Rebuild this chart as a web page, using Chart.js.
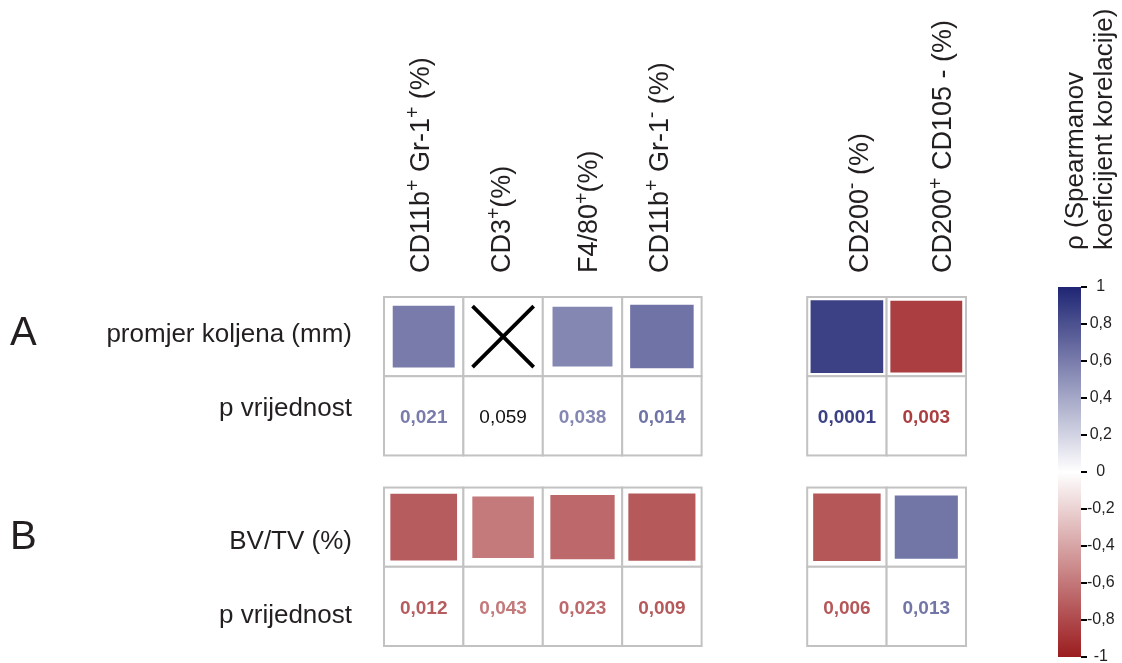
<!DOCTYPE html>
<html><head><meta charset="utf-8">
<script src="https://cdn.jsdelivr.net/npm/chart.js@4.4.1/dist/chart.umd.min.js"></script>
<style>
html,body{margin:0;padding:0;background:#fff;overflow:hidden;}
#wrap{position:relative;width:1122px;height:663px;overflow:hidden;}
#wrap canvas{position:absolute;left:0;top:0;}
</style></head><body>
<div id="wrap">
  <canvas id="matrix" width="1122" height="663"></canvas>
  <canvas id="scale" width="1122" height="663"></canvas>
</div>
<script>
// ---------------- data ----------------
const markers = ["CD11b^+ Gr-1^+ (%)", "CD3^+(%)", "F4/80^+(%)", "CD11b^+ Gr-1^- (%)", "CD200^- (%)", "CD200^+ CD105 - (%)"];
const markerGroup = [0, 0, 0, 0, 1, 1];
const panels = ["A", "B"];
const outcomes = ["promjer koljena (mm)", "BV/TV (%)"];
const pRowLabel = "p vrijednost";
const rhoKnee = [0.60, null, 0.55, 0.64, 0.87, -0.85];
const pKnee = [0.021, 0.059, 0.038, 0.014, 0.0001, 0.003];
const rhoBV = [-0.72, -0.59, -0.66, -0.73, -0.74, 0.63];
const pBV = [0.012, 0.043, 0.023, 0.009, 0.006, 0.013];
const rhoMin = -1, rhoMax = 1, rhoStep = 0.2;
const colorbarTitle = ["\u03C1 (Spearmanov", "koeficijent korelacije)"];

// ---------------- layout / style ----------------
const FAM = "'Liberation Sans', Arial, Helvetica, sans-serif";
const TEXT = '#231f20';
const GROUP_GAP = 1.33, PANEL_GAP = 0.405;
const headerNudge = [5, 7, 15, 6, 21, 25];
const HEADER_BASE_Y = 273;
const HEADER_SIZE = 27;
const labelNudge = [[5.5, 0], [21.5, 17]];
const letterNudge = [8.5, 21.5];
const BLUE = [31, 37, 115], RED = [155, 28, 31];

Chart.defaults.font.family = FAM;
Chart.defaults.color = TEXT;

function colX(i) { return i + (markerGroup[i] ? GROUP_GAP : 0); }
function rowY(p, r) { return p * (2 + PANEL_GAP) + r; }
function rhoColor(v) {
  const t = Math.min(1, Math.abs(v));
  const e = v >= 0 ? BLUE : RED;
  const c = e.map(k => Math.round(255 + (k - 255) * t));
  return 'rgb(' + c.join(',') + ')';
}
function fmtNum(v) { return String(v).replace('.', ','); }
function cellPx(chart) {
  const s = chart.scales.x;
  const d = Math.abs(s.getPixelForValue(1) - s.getPixelForValue(0));
  return isFinite(d) ? d : 79;
}

const rhoRows = [rhoKnee, rhoBV], pRows = [pKnee, pBV];
const squares = [], crosses = [];
rhoRows.forEach((arr, p) => arr.forEach((v, i) => {
  const pt = { x: colX(i), y: rowY(p, 0), rho: v };
  (v === null ? crosses : squares).push(pt);
}));

function parseRich(s) {
  const segs = []; let buf = '';
  for (let k = 0; k < s.length; k++) {
    if (s[k] === '^') {
      if (buf) { segs.push({ t: buf, sup: false }); buf = ''; }
      segs.push({ t: s[k + 1], sup: true }); k++;
    } else buf += s[k];
  }
  if (buf) segs.push({ t: buf, sup: false });
  return segs;
}
function drawRich(ctx, s, x, y, size, rot) {
  ctx.save();
  ctx.translate(x, y); ctx.rotate(rot);
  ctx.textBaseline = 'alphabetic'; ctx.textAlign = 'left'; ctx.fillStyle = TEXT;
  let cx = 0;
  for (const g of parseRich(s)) {
    const fs = g.sup ? size * 0.72 : size;
    ctx.font = fs + 'px ' + FAM;
    ctx.fillText(g.t, cx, g.sup ? -size * 0.36 : 0);
    cx += ctx.measureText(g.t).width;
  }
  ctx.restore();
}

const gridPlugin = {
  id: 'cells',
  beforeDatasetsDraw(chart) {
    const { ctx, scales: { x: xs, y: ys } } = chart;
    ctx.save();
    ctx.strokeStyle = '#c2c2c2'; ctx.lineWidth = 2; ctx.fillStyle = '#fff';
    panels.forEach((pn, p) => markers.forEach((m, i) => {
      for (let r = 0; r < 2; r++) {
        const x0 = xs.getPixelForValue(colX(i) - 0.5), x1 = xs.getPixelForValue(colX(i) + 0.5);
        const ya = ys.getPixelForValue(rowY(p, r) - 0.5), yb = ys.getPixelForValue(rowY(p, r) + 0.5);
        const y0 = Math.min(ya, yb), h = Math.abs(yb - ya);
        ctx.fillRect(x0, y0, x1 - x0, h);
        ctx.strokeRect(x0, y0, x1 - x0, h);
      }
    }));
    ctx.restore();
  }
};

const textPlugin = {
  id: 'labels',
  afterDatasetsDraw(chart) {
    const { ctx, scales: { x: xs, y: ys } } = chart;
    ctx.save();
    markers.forEach((m, i) => {
      drawRich(ctx, m, xs.getPixelForValue(colX(i)) + headerNudge[i], HEADER_BASE_Y, HEADER_SIZE, -Math.PI / 2);
    });
    ctx.fillStyle = TEXT; ctx.textBaseline = 'alphabetic';
    panels.forEach((pn, p) => {
      ctx.textAlign = 'right'; ctx.font = '26px ' + FAM;
      ctx.fillText(outcomes[p], 352, ys.getPixelForValue(rowY(p, 0)) + labelNudge[p][0]);
      ctx.fillText(pRowLabel, 352, ys.getPixelForValue(rowY(p, 1)) + labelNudge[p][1]);
      ctx.textAlign = 'left'; ctx.font = '40px ' + FAM;
      ctx.fillText(pn, 10, ys.getPixelForValue(rowY(p, 0)) + letterNudge[p]);
    });
    ctx.textAlign = 'center'; ctx.textBaseline = 'middle';
    pRows.forEach((arr, p) => arr.forEach((v, i) => {
      const rho = rhoRows[p][i];
      ctx.font = (rho === null ? '' : 'bold ') + '19px ' + FAM;
      ctx.fillStyle = rho === null ? '#111' : rhoColor(rho);
      ctx.fillText(fmtNum(v), xs.getPixelForValue(colX(i)), ys.getPixelForValue(rowY(p, 1)) + 2);
    }));
    ctx.restore();
  }
};

new Chart(document.getElementById('matrix'), {
  type: 'scatter',
  data: {
    datasets: [
      {
        label: 'rho',
        data: squares,
        pointStyle: 'rect',
        backgroundColor: c => (c.raw ? rhoColor(c.raw.rho) : '#888'),
        borderWidth: 0,
        pointRadius: c => (c.raw ? cellPx(c.chart) * (0.48 + 0.5 * Math.abs(c.raw.rho)) / Math.SQRT2 : 3),
        pointHoverRadius: c => (c.raw ? cellPx(c.chart) * (0.48 + 0.5 * Math.abs(c.raw.rho)) / Math.SQRT2 : 3)
      },
      {
        label: 'n.s.',
        data: crosses,
        pointStyle: 'crossRot',
        borderColor: '#000',
        backgroundColor: '#000',
        borderWidth: 3.8,
        pointRadius: c => cellPx(c.chart) * 0.385 / Math.SQRT1_2,
        pointHoverRadius: c => cellPx(c.chart) * 0.385 / Math.SQRT1_2
      }
    ]
  },
  options: {
    responsive: false, animation: false, events: [],
    layout: { autoPadding: false, padding: { left: 384, right: 156, top: 297, bottom: 17 } },
    plugins: { legend: false, tooltip: { enabled: false } },
    scales: {
      x: { type: 'linear', display: false, min: -0.5, max: colX(markers.length - 1) + 0.5 },
      y: { type: 'linear', display: false, reverse: true, min: -0.5, max: rowY(panels.length - 1, 1) + 0.5 }
    }
  },
  plugins: [gridPlugin, textPlugin]
});

function barGradient(chart) {
  const ys = chart.scales.y;
  if (!ys) return 'rgba(0,0,0,0)';
  const top = ys.getPixelForValue(rhoMax), bot = ys.getPixelForValue(rhoMin);
  if (!isFinite(top) || !isFinite(bot) || top === bot) return 'rgba(0,0,0,0)';
  const g = chart.ctx.createLinearGradient(0, bot, 0, top);
  for (let k = 0; k <= 20; k++) g.addColorStop(k / 20, rhoColor(rhoMin + k * (rhoMax - rhoMin) / 20));
  return g;
}
const titlePlugin = {
  id: 'cbtitle',
  afterDraw(chart) {
    const { ctx, chartArea: a } = chart;
    ctx.save();
    ctx.fillStyle = TEXT; ctx.font = '26px ' + FAM; ctx.textAlign = 'left'; ctx.textBaseline = 'alphabetic';
    colorbarTitle.forEach((t, k) => {
      ctx.save();
      ctx.translate(a.left + 25 + k * 29, a.top - 37);
      ctx.rotate(-Math.PI / 2);
      ctx.fillText(t, 0, 0);
      ctx.restore();
    });
    ctx.restore();
  }
};

new Chart(document.getElementById('scale'), {
  type: 'bar',
  data: {
    labels: ['\u03C1'],
    datasets: [{ data: [[rhoMin, rhoMax]], backgroundColor: c => barGradient(c.chart), borderWidth: 0, barPercentage: 1, categoryPercentage: 1 }]
  },
  options: {
    responsive: false, animation: false, events: [],
    layout: { autoPadding: false, padding: { left: 1058, right: 0, top: 287, bottom: 6 } },
    plugins: { legend: false, tooltip: { enabled: false } },
    scales: {
      x: { display: false },
      y: {
        position: 'right', min: rhoMin, max: rhoMax,
        ticks: {
          stepSize: rhoStep, padding: 0, crossAlign: 'center', color: TEXT, font: { size: 16 },
          callback: v => fmtNum(Math.round(v * 10) / 10)
        },
        grid: { drawOnChartArea: false, drawTicks: true, tickLength: 6, color: '#000', lineWidth: 2 },
        border: { display: false },
        afterFit(s) { s.width = 41; s.paddingTop = 0; s.paddingBottom = 0; }
      }
    }
  },
  plugins: [titlePlugin]
});
</script>
</body></html>
